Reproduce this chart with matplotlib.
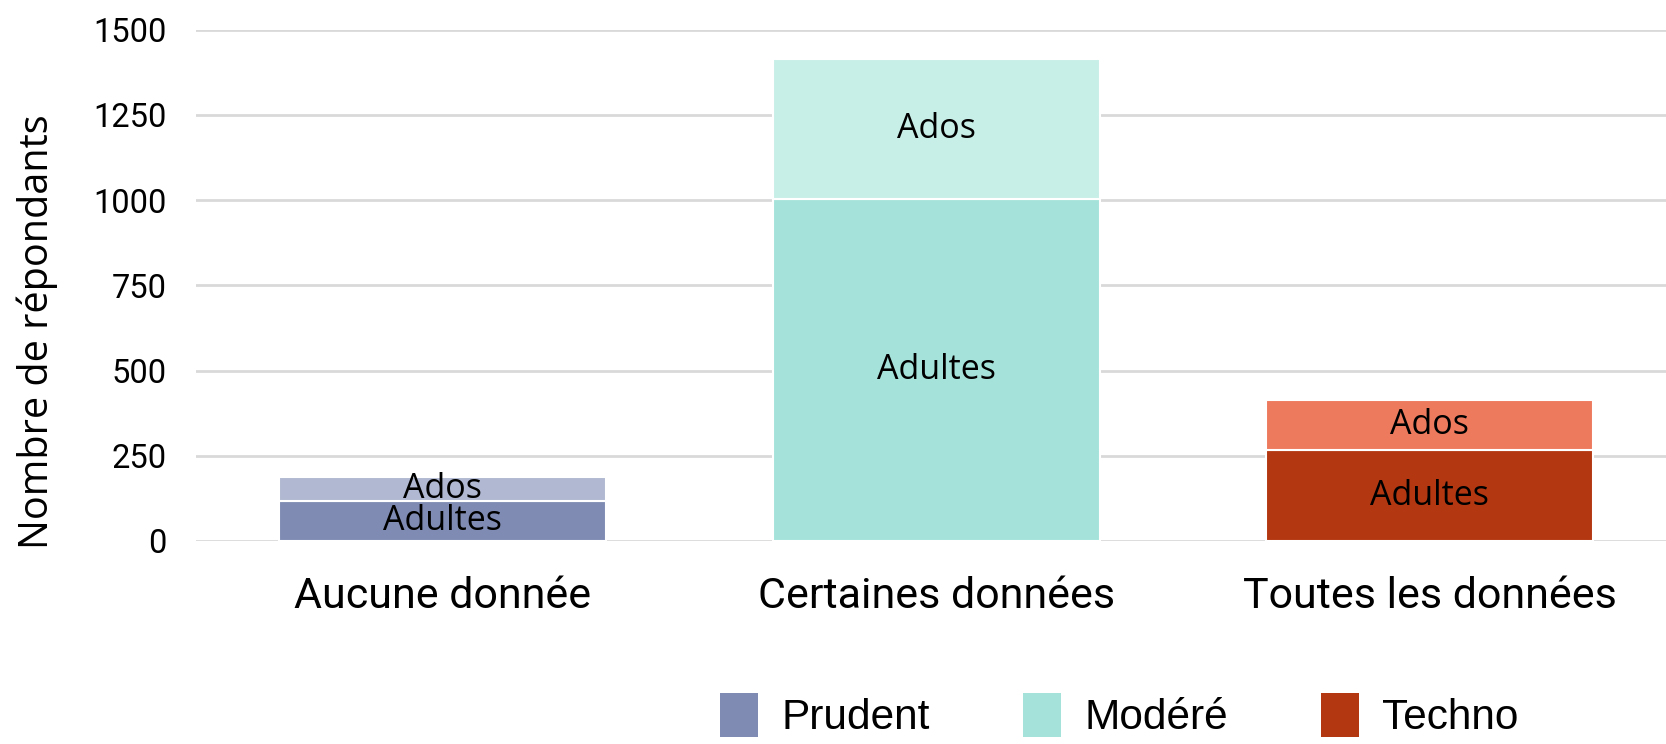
import matplotlib
matplotlib.use("Agg")
import matplotlib.pyplot as plt
from matplotlib.patches import Patch
import numpy as np

categories = ["Aucune donnée", "Certaines données", "Toutes les données"]
adultes = [116, 1003, 266]
ados = [72, 411, 146]
groups = ["Prudent", "Modéré", "Techno"]
col_adultes = ["#7f8bb3", "#a5e3da", "#b33710"]
col_ados = ["#b0b8d2", "#c7efe7", "#ee7a5e"]
yticks = [0, 250, 500, 750, 1000, 1250, 1500]

fig = plt.figure(figsize=(16.66, 7.44), dpi=100)
ax = fig.add_axes([0.1177, 0.273, 0.8884, 0.687])

x = np.arange(len(categories))
w = 0.663
ax.bar(x, adultes, width=w, color=col_adultes, edgecolor="white", linewidth=1.5, zorder=3)
ax.bar(x, ados, width=w, bottom=adultes, color=col_ados, edgecolor="white", linewidth=1.5, zorder=3)

for i in range(len(categories)):
    ax.text(x[i], adultes[i] / 2, "Adultes", ha="center", va="center",
            fontsize=24.5, family="Open Sans", zorder=4)
    ax.text(x[i], adultes[i] + ados[i] / 2, "Ados", ha="center", va="center",
            fontsize=24.5, family="Open Sans", zorder=4)

ax.set_xlim(-0.5, 2.5)
ax.set_ylim(0, 1500)
ax.set_yticks(yticks)
ax.set_yticklabels([str(v) for v in yticks], family="Roboto", fontsize=23.5)
ax.set_xticks(x)
ax.set_xticklabels(categories, family="Roboto", fontsize=31)
ax.tick_params(axis="y", length=0, pad=21)
ax.tick_params(axis="x", length=0, pad=25)
ax.grid(axis="y", color="#d9d9d9", linewidth=2, zorder=0)
for s in ax.spines.values():
    s.set_visible(False)
ax.set_ylabel("Nombre de répondants", family="Open Sans", fontsize=28.5)
ax.yaxis.set_label_coords(-0.093, 0.41)

handles = [Patch(facecolor=c) for c in col_adultes]
fig.legend(handles, groups, loc="upper left", bbox_to_anchor=(0.432, 0.068), ncol=3,
           frameon=False, prop={"family": "Liberation Sans", "size": 30.5},
           handlelength=0.9, handleheight=1.2, handletextpad=0.55, columnspacing=2.2,
           borderaxespad=0, borderpad=0)

fig.savefig("out.png", dpi=100)
